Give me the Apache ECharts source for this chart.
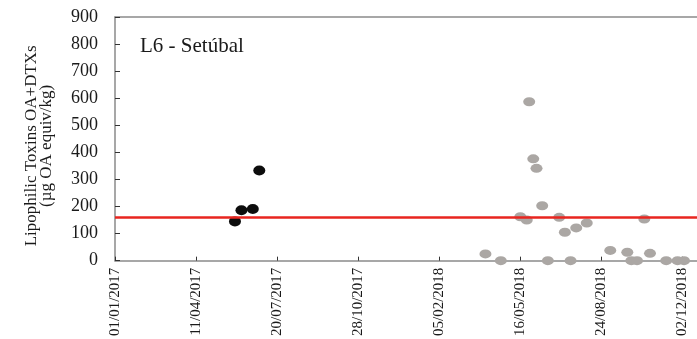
<!DOCTYPE html>
<html>
<head>
<meta charset="utf-8">
<script src="https://cdn.jsdelivr.net/npm/echarts@6/dist/echarts.min.js"></script>
<style>
  html, body { margin: 0; padding: 0; background: #fff; }
  #chart { width: 697px; height: 339px; }
</style>
</head>
<body>
<div id="chart"></div>
<script>
// Sampling dates and toxin concentrations (µg OA equiv/kg), station L6 - Setúbal
var dates2017 = ['2017-05-29', '2017-06-06', '2017-06-20', '2017-06-28'];
var values2017 = [145, 186, 191, 333];

var dates2018 = [
  '2018-04-03', '2018-04-22', '2018-05-16', '2018-05-24', '2018-05-27',
  '2018-06-01', '2018-06-05', '2018-06-12', '2018-06-19', '2018-07-03',
  '2018-07-10', '2018-07-17', '2018-07-24', '2018-08-06', '2018-09-04',
  '2018-09-25', '2018-09-30', '2018-10-07', '2018-10-16', '2018-10-23',
  '2018-11-12', '2018-11-26', '2018-12-04'
];
var values2018 = [
  25, 0, 162, 150, 587,
  376, 341, 203, 0, 160,
  105, 0, 121, 139, 38,
  31, 0, 0, 154, 27,
  0, 0, 0
];

// Regulatory limit for OA-group toxins
var regulatoryLimit = 160;

var yTicks = [0, 100, 200, 300, 400, 500, 600, 700, 800, 900];

var DAY = 86400000;
var xStart = Date.UTC(2017, 0, 1);
var xEnd = xStart + 718 * DAY;

function toTime(s) {
  var p = s.split('-');
  return Date.UTC(+p[0], +p[1] - 1, +p[2]);
}
function pairs(ds, vs) {
  return ds.map(function (d, i) { return [toTime(d), vs[i]]; });
}
function fmtDate(v) {
  var d = new Date(v);
  var dd = ('0' + d.getUTCDate()).slice(-2);
  var mm = ('0' + (d.getUTCMonth() + 1)).slice(-2);
  return dd + '/' + mm + '/' + d.getUTCFullYear();
}

var serif = '"Liberation Serif", "Times New Roman", serif';
var axisGray = '#8a8a8a';

var chart = echarts.init(document.getElementById('chart'), null, { renderer: 'canvas' });
chart.setOption({
  animation: false,
  backgroundColor: '#ffffff',
  textStyle: { fontFamily: serif },
  title: {
    text: 'L6 - Setúbal',
    left: 135,
    top: 31,
    textStyle: { fontFamily: serif, fontSize: 21, fontWeight: 'normal', color: '#1a1a1a' }
  },
  grid: { left: 115, right: 0, top: 17, bottom: 78, containLabel: false },
  xAxis: [{
    type: 'value',
    min: xStart,
    max: xEnd,
    interval: 100 * DAY,
    axisLine: { show: true, lineStyle: { color: axisGray, width: 1.5 } },
    axisTick: { show: true, inside: true, length: 4, lineStyle: { color: '#333', width: 1 } },
    axisLabel: {
      rotate: 90,
      margin: 7,
      fontFamily: serif,
      fontSize: 15,
      color: '#1a1a1a',
      formatter: fmtDate,
      showMaxLabel: false
    },
    splitLine: { show: false }
  }, {
    type: 'value',
    position: 'top',
    min: xStart,
    max: xEnd,
    axisLine: { show: true, lineStyle: { color: axisGray, width: 1.5 } },
    axisTick: { show: false },
    axisLabel: { show: false },
    splitLine: { show: false }
  }],
  yAxis: {
    type: 'value',
    min: 0,
    max: 900,
    interval: 100,
    name: 'Lipophilic Toxins OA+DTXs\n(µg OA equiv/kg)',
    nameLocation: 'middle',
    nameRotate: 90,
    nameGap: 61,
    nameTextStyle: {
      fontFamily: serif,
      fontSize: 17,
      color: '#1a1a1a',
      lineHeight: 15,
      padding: [0, 14, 0, 0]
    },
    axisLine: { show: true, lineStyle: { color: axisGray, width: 1.5 } },
    axisTick: { show: true, inside: true, length: 5, lineStyle: { color: '#333', width: 1 } },
    axisLabel: {
      fontFamily: serif,
      fontSize: 18,
      color: '#1a1a1a',
      margin: 17,
      formatter: function (v) { return yTicks.indexOf(v) >= 0 ? String(v) : ''; }
    },
    splitLine: { show: false }
  },
  series: [{
    type: 'scatter',
    name: '2017',
    data: pairs(dates2017, values2017),
    symbol: 'circle',
    symbolSize: [12, 10],
    clip: false,
    itemStyle: { color: '#0d0d0d', opacity: 1 },
    z: 3
  }, {
    type: 'scatter',
    name: '2018',
    data: pairs(dates2018, values2018),
    symbol: 'circle',
    symbolSize: [12, 9],
    clip: false,
    itemStyle: { color: '#aba7a4', opacity: 1 },
    z: 3,
    markLine: {
      silent: true,
      symbol: 'none',
      label: { show: false },
      lineStyle: { color: '#e8251f', width: 2.5, type: 'solid' },
      data: [{ yAxis: regulatoryLimit }],
      z: 4
    }
  }]
});
</script>
</body>
</html>
